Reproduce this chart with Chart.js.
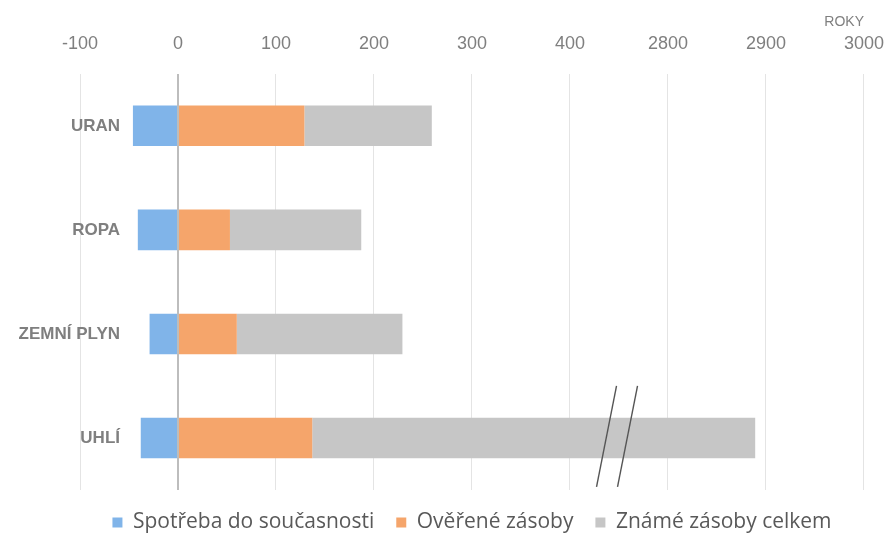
<!DOCTYPE html>
<html>
<head>
<meta charset="utf-8">
<script src="https://cdn.jsdelivr.net/npm/chart.js@4/dist/chart.umd.min.js"></script>
<style>
  html, body { margin: 0; padding: 0; background: #fff; }
  #wrap { width: 889px; height: 543px; }
</style>
</head>
<body>
<div id="wrap"><canvas id="chart"></canvas></div>
<script>
// data (roky)
const categories = ["URAN", "ROPA", "ZEMNÍ PLYN", "UHLÍ"];
const spotreba = [46, 41, 29, 38];        // spotřeba do současnosti
const overene = [129, 53, 60, 137];       // ověřené zásoby
const zname = [259, 187, 229, 2889];      // známé zásoby celkem
const tickValues = [-100, 0, 100, 200, 300, 400, 2800, 2900, 3000];

// axis is broken between 400 and 2800
const breakFrom = 400;
const breakShift = 2300;
function toAxis(v) {
  return v > breakFrom ? v - breakShift : v;
}
function fromAxis(v) {
  return v > breakFrom ? v + breakShift : v;
}

const blue = "#80b4e9";
const orange = "#f5a56b";
const gray = "#c6c6c6";

const plotLeft = 80;      // chart area left edge (the -100 gridline)
const labelRight = 120;   // right edge of the category labels (inside the plot)
const catFont = { family: "Liberation Sans", size: 17, weight: "bold" };

// mirrored y labels: axis right = left + 2*padding, label x = right + padding + widest
const mctx = document.createElement("canvas").getContext("2d");
mctx.font = "bold 17px Liberation Sans";
const widest = Math.max(...categories.map((c) => mctx.measureText(c).width));
const catPadding = (labelRight - plotLeft - widest) / 3;

// slanted "//" break marks over the last bar
const breakMarks = {
  id: "breakMarks",
  afterDatasetsDraw(chart) {
    const ctx = chart.ctx;
    const x = chart.scales.x;
    const y = chart.scales.y;
    const xc = x.getPixelForValue(448);
    const yc = y.getPixelForValue(3);
    const top = yc - 52;
    const bottom = yc + 49;
    ctx.save();
    ctx.strokeStyle = "#555";
    ctx.lineWidth = 1.4;
    [-10.5, 10.5].forEach((dx) => {
      ctx.beginPath();
      ctx.moveTo(xc + dx + 10, top);
      ctx.lineTo(xc + dx - 10, bottom);
      ctx.stroke();
    });
    ctx.restore();
  },
};

new Chart(document.getElementById("chart"), {
  type: "bar",
  data: {
    labels: categories,
    datasets: [
      {
        label: "Spotřeba do současnosti",
        data: spotreba.map((v) => [-v, 0]),
        backgroundColor: blue,
      },
      {
        label: "Ověřené zásoby",
        data: overene.map((v) => [0, v]),
        backgroundColor: orange,
      },
      {
        label: "Známé zásoby celkem",
        data: zname.map((v, i) => [overene[i], toAxis(v)]),
        backgroundColor: gray,
      },
    ],
  },
  options: {
    indexAxis: "y",
    responsive: true,
    maintainAspectRatio: false,
    animation: false,
    layout: {
      padding: { left: plotLeft, right: 25, top: 0, bottom: 0 },
    },
    datasets: {
      bar: {
        grouped: false,
        categoryPercentage: 1,
        barPercentage: 0.39,
        borderWidth: 0,
      },
    },
    scales: {
      x: {
        position: "top",
        min: -100,
        max: toAxis(3000),
        afterBuildTicks: (axis) => {
          axis.ticks = tickValues.map((v) => ({ value: toAxis(v) }));
        },
        ticks: {
          padding: 5,
          maxRotation: 0,
          color: "#7f7f7f",
          font: { family: "Liberation Sans", size: 18, lineHeight: "50px" },
          callback: (v) => fromAxis(v),
        },
        grid: {
          drawTicks: false,
          color: (c) => (c.tick && c.tick.value === 0 ? "#bdbdbd" : "#e4e4e4"),
          lineWidth: (c) => (c.tick && c.tick.value === 0 ? 2 : 1),
        },
        border: { display: false },
        title: {
          display: true,
          text: "ROKY",
          align: "end",
          color: "#7f7f7f",
          font: { family: "Liberation Sans", size: 14 },
          padding: { top: 14, bottom: -17 },
        },
      },
      y: {
        ticks: {
          mirror: true,
          crossAlign: "far",
          padding: catPadding,
          color: "#7f7f7f",
          font: catFont,
        },
        grid: { display: false, drawTicks: false },
        border: { display: false },
      },
    },
    plugins: {
      legend: {
        position: "bottom",
        labels: {
          boxWidth: 10,
          boxHeight: 10,
          padding: 22,
          color: "#595959",
          font: { family: "Open Sans", size: 21 },
        },
      },
      tooltip: { enabled: false },
    },
  },
  plugins: [breakMarks],
});
</script>
</body>
</html>
